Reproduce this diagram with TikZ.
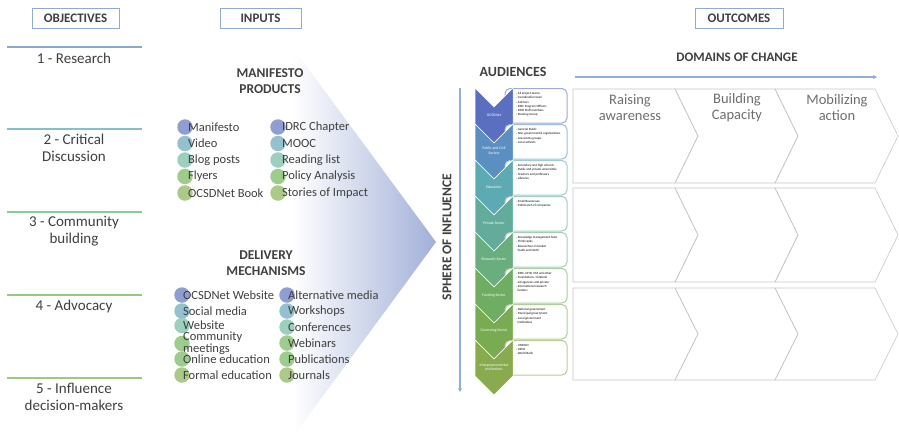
\documentclass[tikz,border=0pt]{standalone}
\usepackage{fontspec}
\setmainfont{Carlito}
\usetikzlibrary{positioning,arrows.meta,shadings}

\definecolor{boxblue}{HTML}{8FA9D9}
\definecolor{txtdark}{HTML}{3F3F3F}
\definecolor{outgray}{HTML}{6E6E6E}
\definecolor{gridgray}{HTML}{C6C6C6}
\definecolor{sphblue}{HTML}{8FAEDC}
\definecolor{tri}{HTML}{A2B0D8}
\definecolor{ob1}{HTML}{8EA5D2}
\definecolor{ob2}{HTML}{86C0C6}
\definecolor{ob3}{HTML}{8CCB9A}
\definecolor{ob4}{HTML}{96CA84}
\definecolor{ob5}{HTML}{9FC97E}
\definecolor{bl1}{HTML}{8E9ED0}
\definecolor{bl2}{HTML}{93C1CD}
\definecolor{bl3}{HTML}{9CCFBE}
\definecolor{bl4}{HTML}{9DCC8C}
\definecolor{bl5}{HTML}{ADC98A}
\definecolor{au1}{HTML}{5A6FC0}
\definecolor{au2}{HTML}{5B8FC2}
\definecolor{au3}{HTML}{5EAAB2}
\definecolor{au4}{HTML}{63AC9C}
\definecolor{au5}{HTML}{6AAE7F}
\definecolor{au6}{HTML}{6FAE62}
\definecolor{au7}{HTML}{79AC52}
\definecolor{au8}{HTML}{89AA4E}

\begin{document}
\begin{tikzpicture}[x=1pt, y=-1pt,
    hdbox/.style={draw=boxblue, line width=0.9pt, text=txtdark, inner xsep=0pt,
        font=\bfseries\fontsize{13}{13}\selectfont, minimum height=20pt},
    hd/.style={text=txtdark, align=center, font=\bfseries\fontsize{13.5}{16}\selectfont},
    obj/.style={text=txtdark, align=center, font=\fontsize{15}{17}\selectfont},
    dot/.style={circle, minimum size=15.5pt, inner sep=0pt},
    item/.style={text=txtdark, align=left, inner sep=0pt, font=\fontsize{12.5}{10.5}\selectfont},
    aulab/.style={text=white, align=center, font=\fontsize{3.8}{4.4}\selectfont},
    aunote/.style={align=left, inner sep=0pt, font=\fontsize{3.2}{4.3}\selectfont},
    dom/.style={text=outgray, align=center, font=\fontsize{14.5}{16}\selectfont},
    grid/.style={draw=gridgray, line width=0.6pt, line join=round},
    flow/.style={draw=sphblue, line width=1.4pt, -{Stealth[length=4pt, width=4pt]}}]

    \useasboundingbox (0,0) rectangle (899,440);

    % column headers
    \node[hdbox, minimum width=87pt] (objh) at (75.5,18) {OBJECTIVES};
    \node[hdbox, minimum width=81pt] (inph) at (260.5,18) {INPUTS};
    \node[hdbox, minimum width=88pt] (outh) at (739,18) {OUTCOMES};

    % objectives
    \foreach \yy/\col in {47/ob1, 129/ob2, 212/ob3, 295/ob4, 378/ob5}
        \draw[\col, line width=1.3pt] (7,\yy) -- (142,\yy);
    \node[obj] (o1) at (74,58) {1 - Research};
    \node[obj] (o2) at (74,148) {2 - Critical\\Discussion};
    \node[obj] (o3) at (74,231) {3 - Community\\building};
    \node[obj] (o4) at (74,306) {4 - Advocacy};
    \node[obj] (o5) at (74,397) {5 - Influence\\decision-makers};

    % inputs funnel
    \shade[left color=white, right color=tri] (293,48) -- (436,242) -- (295,434) -- cycle;

    \node[hd] (mprod) at (270,81) {MANIFESTO\\PRODUCTS};
    \foreach \txt/\col [count=\i] in {Manifesto/bl1, Video/bl2, Blog posts/bl3, Flyers/bl4, OCSDNet Book/bl5} {
        \node[dot, fill=\col] (mpa\i) at (185,{110.5+16.5*\i}) {};
        \node[item, right=-5pt of mpa\i] (mpat\i) {\txt};
    }
    \foreach \txt/\col [count=\i] in {IDRC Chapter/bl1, MOOC/bl2, Reading list/bl3, Policy Analysis/bl4, Stories of Impact/bl5} {
        \node[dot, fill=\col] (mpb\i) at (278,{110.5+16.5*\i}) {};
        \node[item, right=-4pt of mpb\i] (mpbt\i) {\txt};
    }

    \node[hd] (deliv) at (266,263) {DELIVERY\\MECHANISMS};
    \foreach \txt/\col/\yy [count=\i] in {OCSDNet Website/bl1/295, Social media/bl2/311, Website/bl3/325.5,
            {Community\\meetings}/bl4/343.5, Online education/bl4/359, Formal education/bl5/375} {
        \node[dot, fill=\col] (dma\i) at (182,\yy) {};
        \node[item, right=-7pt of dma\i] (dmat\i) {\txt};
    }
    \foreach \txt/\col [count=\i] in {Alternative media/bl1, Workshops/bl2, Conferences/bl3,
            Webinars/bl4, Publications/bl4, Journals/bl5} {
        \node[dot, fill=\col] (dmb\i) at (287,{279+16*\i}) {};
        \node[item, right=-7pt of dmb\i] (dmbt\i) {\txt};
    }

    % sphere of influence
    \node[hd, rotate=90] (sphere) at (447,237) {SPHERE OF INFLUENCE};
    \coordinate (sph top) at (460,88);
    \coordinate (sph bot) at (460,392);
    \draw[flow] (sph top) -- (sph bot);

    % audiences
    \node[hd, font=\bfseries\fontsize{14}{16}\selectfont] (aud) at (513,72) {AUDIENCES};
    \foreach \lab/\col/\note [count=\i] in {
        OCSDNet/au1/{- All project teams\\- Coordination team\\- Advisors\\- IDRC Program Officers\\- DFID Staff members\\- Steering Group},
        {Public and Civil\\Society}/au2/{- General Public\\- Non-governmental organizations\\- Grassroots groups\\- Local activists},
        Education/au3/{- Secondary and high schools\\- Public and private universities\\- Teachers and professors\\- Libraries},
        Private Sector/au4/{- Small Businesses\\- CSR branch of companies},
        Research Sector/au5/{- Knowledge management hubs\\- Think tanks\\- Researchers in Global\\\ \ South and North},
        Funding Sector/au6/{- IDRC, DFID, OSF and other\\- Foundations / bilateral\\\ \ aid agencies and private\\- International research\\\ \ funders},
        Governing Sector/au7/{- National government\\- Municipal government\\- Local government\\\ \ institutions},
        {Intergovernmental\\Institutions}/au8/{- UNESCO\\- OECD\\- World Bank}} {
        \pgfmathsetmacro\yt{88+36*(\i-1)}
        \draw[draw=\col!60, fill=white, line width=1pt, rounded corners=5pt] (505,\yt+0.5) rectangle (567,\yt+35);
        \fill[\col, draw=white, line width=0.5pt] (475,\yt) -- (494,\yt+19) -- (513,\yt) -- (513,\yt+36)
            -- (494,\yt+55) -- (475,\yt+36) -- cycle;
        \node[aulab] (au\i) at (494,\yt+27) {\lab};
        \node[aunote, anchor=north west] (aun\i) at (516,\yt+4) {\note};
    }

    % domains of change
    \node[hd, font=\bfseries\fontsize{13}{16}\selectfont] (domh) at (737,57) {DOMAINS OF CHANGE};
    \coordinate (dom start) at (575,77);
    \coordinate (dom end) at (877,77);
    \draw[flow, line width=1.2pt] (dom start) -- (dom end);

    \foreach \tp/\bt in {89/183, 188/282, 288/380} {
        \draw[grid] (573,\tp) -- (675,\tp) -- (698,{(\tp+\bt)/2}) -- (675,\bt) -- (573,\bt) -- cycle;
        \foreach \xl in {675,775}
            \draw[grid] (\xl,\tp) -- (\xl+100,\tp) -- (\xl+123,{(\tp+\bt)/2}) -- (\xl+100,\bt)
                -- (\xl,\bt) -- (\xl+23,{(\tp+\bt)/2}) -- cycle;
    }
    \node[dom] (raise) at (630,108) {Raising\\awareness};
    \node[dom] (build) at (737,108) {Building\\Capacity};
    \node[dom] (mobil) at (837,108) {Mobilizing\\action};
\end{tikzpicture}
\end{document}
